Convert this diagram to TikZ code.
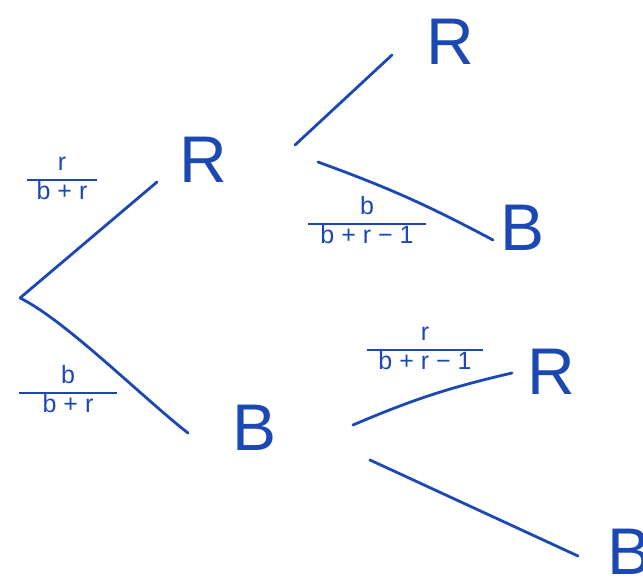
\documentclass[tikz,border=0pt]{standalone}
\usepackage{fontspec}
\setmainfont{Liberation Sans}
\usetikzlibrary{positioning}
\definecolor{inkblue}{HTML}{1C48B4}
% hand drawn fraction: numerator over a wide bar
\newcommand{\hfrac}[3][10pt]{\setlength{\arrayrulewidth}{2.6pt}%
  \begin{tabular}{@{\hspace{#1}}c@{\hspace{#1}}}#2\\\hline #3\end{tabular}}
\tikzset{
  leaf/.style={font=\fontsize{66}{66}\selectfont,text=inkblue,inner sep=0pt},
  prob/.style={font=\fontsize{25}{26}\selectfont,text=inkblue,inner sep=0pt},
  branch/.style={draw=inkblue,line width=2.8pt,line cap=round},
}

\begin{document}
\begin{tikzpicture}[x=1pt,y=-1pt]
\useasboundingbox (0,0) rectangle (643,579);
\coordinate (root) at (20,298);
\node[leaf] (R1) at (203,160) {R};
\node[leaf] (B1) at (255,428) {B};
\node[leaf] (R2) at (450,42) {R};
\node[leaf] (B2) at (523,228) {B};
\node[leaf] (R3) at (551,372) {R};
\node[leaf] (B3) at (630,552) {B};

\node[prob] (pr1) at (62,180) {\hfrac[10pt]{r}{b + r}};
\node[prob] (pb1) at (68,393) {\hfrac[24pt]{b}{b + r}};
\node[prob] (pb2) at (367,224) {\hfrac[12pt]{b}{b + r − 1}};
\node[prob] (pr2) at (425,350) {\hfrac[11pt]{r}{b + r − 1}};

\draw[branch] (root) -- ([xshift=-46pt,yshift=-22pt]R1.center);
\draw[branch] (root) .. controls +(45,22) and +(-45,-35) .. ([xshift=-67pt,yshift=-5pt]B1.center);
\draw[branch] ([xshift=92pt,yshift=15pt]R1.center) -- ([xshift=-58pt,yshift=-13pt]R2.center);
\draw[branch] ([xshift=115pt,yshift=-2pt]R1.center) to[bend left=4] ([xshift=-30pt,yshift=-12pt]B2.center);
\draw[branch] ([xshift=98pt,yshift=3pt]B1.center) to[bend left=5] ([xshift=-39pt,yshift=-1pt]R3.center);
\draw[branch] ([xshift=115pt,yshift=-32pt]B1.center) -- ([xshift=-52pt,yshift=-4pt]B3.center);
\end{tikzpicture}
\end{document}
